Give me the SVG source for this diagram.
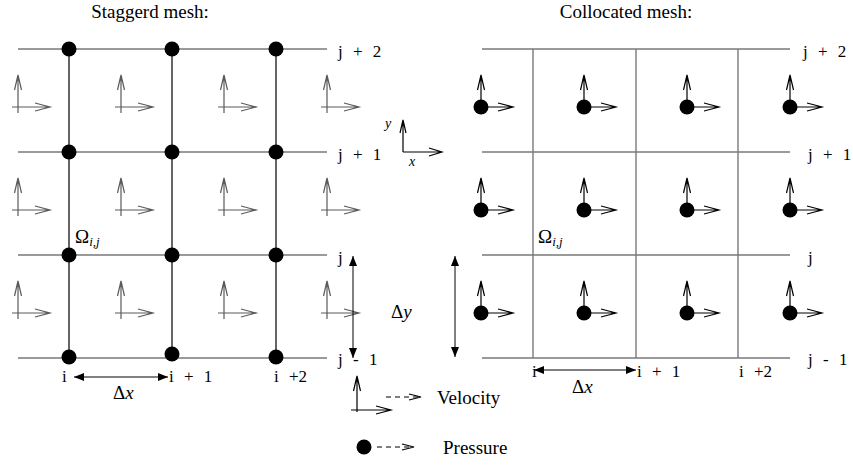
<svg xmlns="http://www.w3.org/2000/svg" xmlns:xlink="http://www.w3.org/1999/xlink" width="853" height="466" viewBox="0 0 853 466">
<style>
text{font-family:"Liberation Serif","DejaVu Serif",serif;fill:#000;}
.t{font-size:19px;}
.l{font-size:17px;word-spacing:6px;}
.m{font-style:italic;}
.gl{stroke:#7a7a7a;stroke-width:1.4;fill:none;}
.bl{stroke:#000;stroke-width:1.2;fill:none;}
.dot{fill:#000;}
.vg{stroke:#5a5a5a;stroke-width:1.2;fill:none;}
.vb{stroke:#000;stroke-width:1.2;fill:none;}
.dim{stroke:#000;stroke-width:1;fill:none;}
</style>
<defs>
<path id="vel" d="M0,6 V-32 M-3.5,-17 L0,-32 L3.5,-17 M-6,0 H32 M17,-4 L32,0 L17,4"/>
<marker id="ah" viewBox="0 0 10 8" refX="10" refY="4" markerWidth="10" markerHeight="8" markerUnits="userSpaceOnUse" orient="auto-start-reverse">
<path d="M0,0 L10,4 L0,8 Z" fill="#000"/>
</marker>
</defs>

<g id="titles">
<text class="t" x="150" y="18" text-anchor="middle">Staggerd mesh:</text>
<text class="t" x="626" y="18" text-anchor="middle">Collocated mesh:</text>
</g>

<g id="staggered-grid">
<path class="gl" d="M18,49 H327 M18,152 H327 M18,255 H327 M18,358 H327"/>
<path class="bl" d="M69,49 V358 M172,49 V358 M276,49 V358"/>
</g>

<g id="staggered-velocity" class="vg">
<use xlink:href="#vel" x="18" y="107"/><use xlink:href="#vel" x="121" y="107"/><use xlink:href="#vel" x="224" y="107"/><use xlink:href="#vel" x="327" y="107"/>
<use xlink:href="#vel" x="18" y="210"/><use xlink:href="#vel" x="121" y="210"/><use xlink:href="#vel" x="224" y="210"/><use xlink:href="#vel" x="327" y="210"/>
<use xlink:href="#vel" x="18" y="313"/><use xlink:href="#vel" x="121" y="313"/><use xlink:href="#vel" x="224" y="313"/><use xlink:href="#vel" x="327" y="313"/>
</g>

<g id="staggered-pressure" class="dot">
<circle cx="69" cy="49" r="7.5"/><circle cx="172" cy="49" r="7.5"/><circle cx="276" cy="49" r="7.5"/>
<circle cx="69" cy="152" r="7.5"/><circle cx="172" cy="152" r="7.5"/><circle cx="276" cy="152" r="7.5"/>
<circle cx="69" cy="255" r="7.5"/><circle cx="172" cy="255" r="7.5"/><circle cx="276" cy="255" r="7.5"/>
<circle cx="69" cy="357" r="7.5"/><circle cx="172" cy="354" r="7.5"/><circle cx="276" cy="357" r="7.5"/>
</g>

<g id="staggered-labels" class="l">
<text x="338" y="57">j + 2</text>
<text x="338" y="160">j + 1</text>
<text x="338" y="263">j</text>
<text x="338" y="365">j - 1</text>
<text x="62" y="382">i</text>
<text x="169" y="382">i + 1</text>
<text x="274" y="382">i +2</text>
<text x="75" y="243" font-size="19">Ω<tspan class="m" font-size="13" dy="3">i,j</tspan></text>
<text x="113" y="399" font-size="19">Δ<tspan class="m">x</tspan></text>
<text x="391" y="318" font-size="19">Δ<tspan class="m">y</tspan></text>
</g>

<g id="axes">
<path class="vb" d="M403,152 V120 M400,133 L403,120 L406,133 M403,152 H442 M429,148 L442,152 L429,156"/>
<text x="385" y="128" class="m" font-size="14">y</text>
<text x="409" y="166" class="m" font-size="14">x</text>
</g>

<g id="collocated-grid">
<path class="gl" d="M482,49 H790 M482,152 H790 M482,255 H790 M482,358 H790 M533,49 V358 M636,49 V358 M738,49 V358"/>
</g>

<g id="collocated-velocity" class="vb">
<use xlink:href="#vel" x="481" y="107"/><use xlink:href="#vel" x="584" y="107"/><use xlink:href="#vel" x="687" y="107"/><use xlink:href="#vel" x="790" y="107"/>
<use xlink:href="#vel" x="481" y="210"/><use xlink:href="#vel" x="584" y="210"/><use xlink:href="#vel" x="687" y="210"/><use xlink:href="#vel" x="790" y="210"/>
<use xlink:href="#vel" x="481" y="313"/><use xlink:href="#vel" x="584" y="313"/><use xlink:href="#vel" x="687" y="313"/><use xlink:href="#vel" x="790" y="313"/>
</g>

<g id="collocated-pressure" class="dot">
<circle cx="481" cy="107" r="7.5"/><circle cx="584" cy="107" r="7.5"/><circle cx="687" cy="107" r="7.5"/><circle cx="790" cy="107" r="7.5"/>
<circle cx="481" cy="210" r="7.5"/><circle cx="584" cy="210" r="7.5"/><circle cx="687" cy="210" r="7.5"/><circle cx="790" cy="210" r="7.5"/>
<circle cx="481" cy="313" r="7.5"/><circle cx="584" cy="313" r="7.5"/><circle cx="687" cy="313" r="7.5"/><circle cx="790" cy="313" r="7.5"/>
</g>

<g id="collocated-labels" class="l">
<text x="803" y="57">j + 2</text>
<text x="808" y="160">j + 1</text>
<text x="808" y="263">j</text>
<text x="808" y="365">j - 1</text>
<text x="532" y="377">i</text>
<text x="637" y="377">i + 1</text>
<text x="739" y="377">i +2</text>
<text x="538" y="243" font-size="19">Ω<tspan class="m" font-size="13" dy="3">i,j</tspan></text>
<text x="572" y="393" font-size="19">Δ<tspan class="m">x</tspan></text>
</g>

<g id="connectors">
<line class="dim" x1="74" y1="377" x2="168" y2="377" marker-start="url(#ah)" marker-end="url(#ah)"/>
<line class="dim" x1="353" y1="256" x2="353" y2="358" marker-start="url(#ah)" marker-end="url(#ah)"/>
<line class="dim" x1="534" y1="370" x2="636" y2="370" marker-start="url(#ah)" marker-end="url(#ah)"/>
<line class="dim" x1="455" y1="256" x2="455" y2="357" marker-start="url(#ah)" marker-end="url(#ah)"/>
</g>

<g id="legend">
<path class="vb" d="M357,412 V376 M353.5,391 L357,376 L360.5,391 M351,410 H391 M376,406 L391,410 L376,414"/>
<path class="vb" d="M386,397 H419" stroke-dasharray="5,4"/>
<path class="vb" d="M409,394 L421,397 L409,400"/>
<text class="t" x="437" y="404">Velocity</text>
<circle class="dot" cx="364" cy="447" r="7.5"/>
<path class="vb" d="M377,447 H411" stroke-dasharray="5,4"/>
<path class="vb" d="M402,444 L414,447 L402,450"/>
<text class="t" x="443" y="454">Pressure</text>
</g>
</svg>
